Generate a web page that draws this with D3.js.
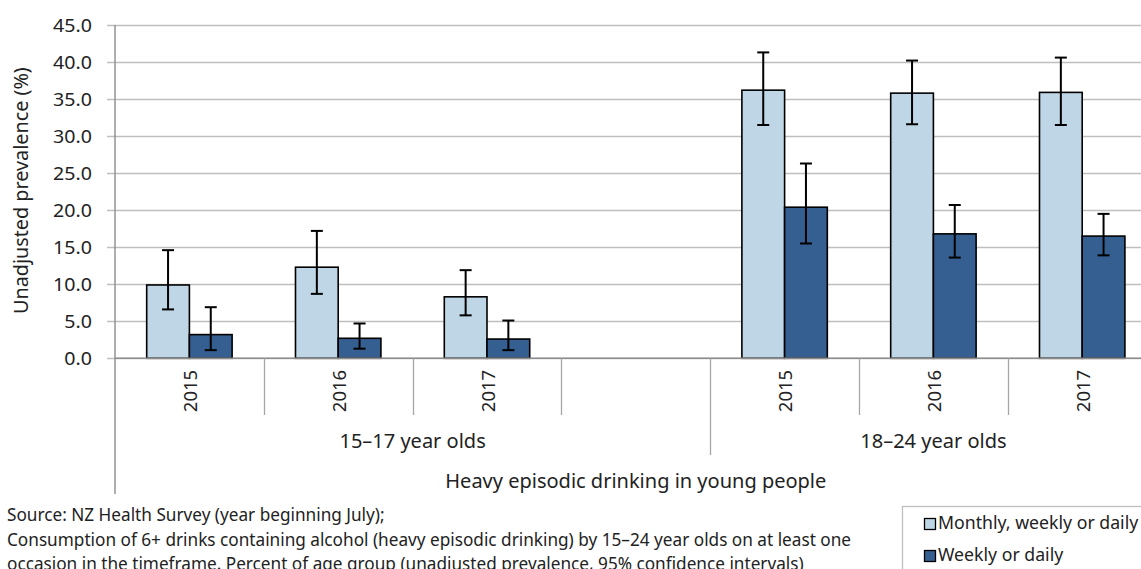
<!DOCTYPE html>
<html><head><meta charset="utf-8">
<script src="https://cdn.jsdelivr.net/npm/d3@7"></script>
<style>body{margin:0;background:#fff;overflow:hidden}svg{display:block;font-family:"Noto Sans",sans-serif}</style>
</head><body><svg id="c" width="1141" height="569"></svg>
<script>
const groups = ["15–17 year olds", "18–24 year olds"];
const years = ["2015", "2016", "2017"];
const seriesNames = ["Monthly, weekly or daily", "Weekly or daily"];
// values in order: group1 2015,2016,2017, group2 2015,2016,2017
const monthly = [9.9, 12.3, 8.3, 36.2, 35.8, 35.9];
const monthlyLow = [6.6, 8.7, 5.8, 31.5, 31.6, 31.5];
const monthlyHigh = [14.6, 17.2, 11.9, 41.3, 40.2, 40.6];
const weekly = [3.2, 2.7, 2.6, 20.4, 16.8, 16.5];
const weeklyLow = [1.1, 1.3, 1.1, 15.5, 13.6, 13.9];
const weeklyHigh = [6.9, 4.7, 5.1, 26.3, 20.7, 19.5];
const yTicks = [0, 5, 10, 15, 20, 25, 30, 35, 40, 45];
const axisTitle = "Heavy episodic drinking in young people";
const yTitle = "Unadjusted prevalence (%)";
const notes = ["Source: NZ Health Survey (year beginning July);",
  "Consumption of 6+ drinks containing alcohol (heavy episodic drinking) by 15–24 year olds on at least one",
  "occasion in the timeframe. Percent of age group (unadjusted prevalence, 95% confidence intervals)"];

const colors = ["#bed6e6", "#365f91"];
const ink = "#222";
const svg = d3.select("#c");
const L = 115, T = 25, B = 358.3, slotW = 148.8;

// slots: group1 has 3 years + 1 empty slot, group2 has 3 years
const slotKeys = [];
groups.forEach((g, gi) => {
  years.forEach(y => slotKeys.push(g + "|" + y));
  if (gi === 0) slotKeys.push(g + "|");
});
const x = d3.scaleBand().domain(slotKeys).range([L, L + slotW * slotKeys.length]).paddingInner(0).paddingOuter(0);
const y = d3.scaleLinear().domain([0, 45]).range([B, T]);
const xs = d3.scaleBand().domain(seriesNames).range([0, x.bandwidth()]).paddingInner(0).paddingOuter(0.742);

// grid
const gridG = svg.append("g");
yTicks.forEach(t => {
  gridG.append("line").attr("x1", L - 8).attr("x2", 1141).attr("y1", Math.round(y(t)) + 0.5).attr("y2", Math.round(y(t)) + 0.5)
    .attr("stroke", "#bfbfbf").attr("stroke-width", 1.4);
});
// y tick labels
const yfmt = d3.format(".1f");
svg.append("g").selectAll("text").data(yTicks).join("text")
  .attr("transform", d => `translate(92,${y(d)}) scale(1.06,1)`)
  .attr("dy", "0.36em").attr("text-anchor", "end").attr("font-size", 18.5).attr("fill", ink)
  .text(d => yfmt(d));
svg.append("line").attr("x1", L).attr("x2", L).attr("y1", T).attr("y2", 494).attr("stroke", "#8c8c8c").attr("stroke-width", 1.4);

// bars
const data = [];
groups.forEach((g, gi) => years.forEach((yr, yi) => {
  const i = gi * 3 + yi;
  data.push({key: g + "|" + yr, s: seriesNames[0], v: monthly[i], lo: monthlyLow[i], hi: monthlyHigh[i], c: colors[0]});
  data.push({key: g + "|" + yr, s: seriesNames[1], v: weekly[i], lo: weeklyLow[i], hi: weeklyHigh[i], c: colors[1]});
}));
svg.append("g").selectAll("rect").data(data).join("rect")
  .attr("x", d => x(d.key) + xs(d.s)).attr("width", xs.bandwidth())
  .attr("y", d => y(d.v)).attr("height", d => y(0) - y(d.v))
  .attr("fill", d => d.c).attr("stroke", "#000").attr("stroke-width", 1.6);
// error bars
const eg = svg.append("g").attr("stroke", "#000").attr("stroke-width", 2);
data.forEach(d => {
  const cx = x(d.key) + xs(d.s) + xs.bandwidth() / 2;
  eg.append("line").attr("x1", cx).attr("x2", cx).attr("y1", y(d.hi)).attr("y2", y(d.lo));
  eg.append("line").attr("x1", cx - 6).attr("x2", cx + 6).attr("y1", y(d.hi)).attr("y2", y(d.hi));
  eg.append("line").attr("x1", cx - 6).attr("x2", cx + 6).attr("y1", y(d.lo)).attr("y2", y(d.lo));
});

// x axis line
svg.append("line").attr("x1", L).attr("x2", 1141).attr("y1", B).attr("y2", B).attr("stroke", "#8c8c8c").attr("stroke-width", 1.4);
// slot separators
slotKeys.forEach((k, i) => {
  if (i === 0) return;
  const xx = Math.round(x(k)) + 0.5;
  const isGroup = k.endsWith("2015");
  svg.append("line").attr("x1", xx).attr("x2", xx).attr("y1", B).attr("y2", isGroup ? 455 : 415)
    .attr("stroke", "#a6a6a6").attr("stroke-width", 1.3);
});
// year labels
slotKeys.forEach(k => {
  const yr = k.split("|")[1];
  if (!yr) return;
  const cx = x(k) + x.bandwidth() / 2;
  svg.append("text").attr("transform", `translate(${cx + 7.5},391) rotate(-90)`).attr("text-anchor", "middle")
    .attr("font-size", 18.5).attr("fill", ink).text(yr);
});
// group labels
groups.forEach((g) => {
  const keys = slotKeys.filter(k => k.startsWith(g + "|"));
  const x0 = x(keys[0]), x1 = x(keys[keys.length - 1]) + x.bandwidth();
  svg.append("text").attr("x", (x0 + x1) / 2).attr("y", 448).attr("text-anchor", "middle")
    .attr("font-size", 20).attr("fill", ink).text(g);
});
svg.append("text").attr("x", (L + x.range()[1]) / 2).attr("y", 488).attr("text-anchor", "middle")
  .attr("font-size", 20).attr("fill", ink).text(axisTitle);
// y title
svg.append("text").attr("transform", `translate(28,${(T + B) / 2 - 1}) rotate(-90)`).attr("text-anchor", "middle")
  .attr("font-size", 19.8).attr("fill", ink).text(yTitle);

// notes
notes.forEach((n, i) => {
  svg.append("text").attr("x", 7).attr("y", 521 + i * 24.5).attr("font-size", 17.2).attr("fill", ink).text(n);
});
// legend
svg.append("rect").attr("x", 902.5).attr("y", 506.5).attr("width", 260).attr("height", 80).attr("fill", "#fff").attr("stroke", "#bfbfbf").attr("stroke-width", 1.3);
seriesNames.forEach((s, i) => {
  const yy = 524 + i * 32;
  svg.append("rect").attr("x", 924.5).attr("y", yy - 5.5).attr("width", 11).attr("height", 11).attr("fill", colors[i]).attr("stroke", "#000").attr("stroke-width", 1.3);
  svg.append("text").attr("x", 938).attr("y", yy + 5).attr("font-size", 17.7).attr("fill", ink).text(s);
});
</script></body></html>
